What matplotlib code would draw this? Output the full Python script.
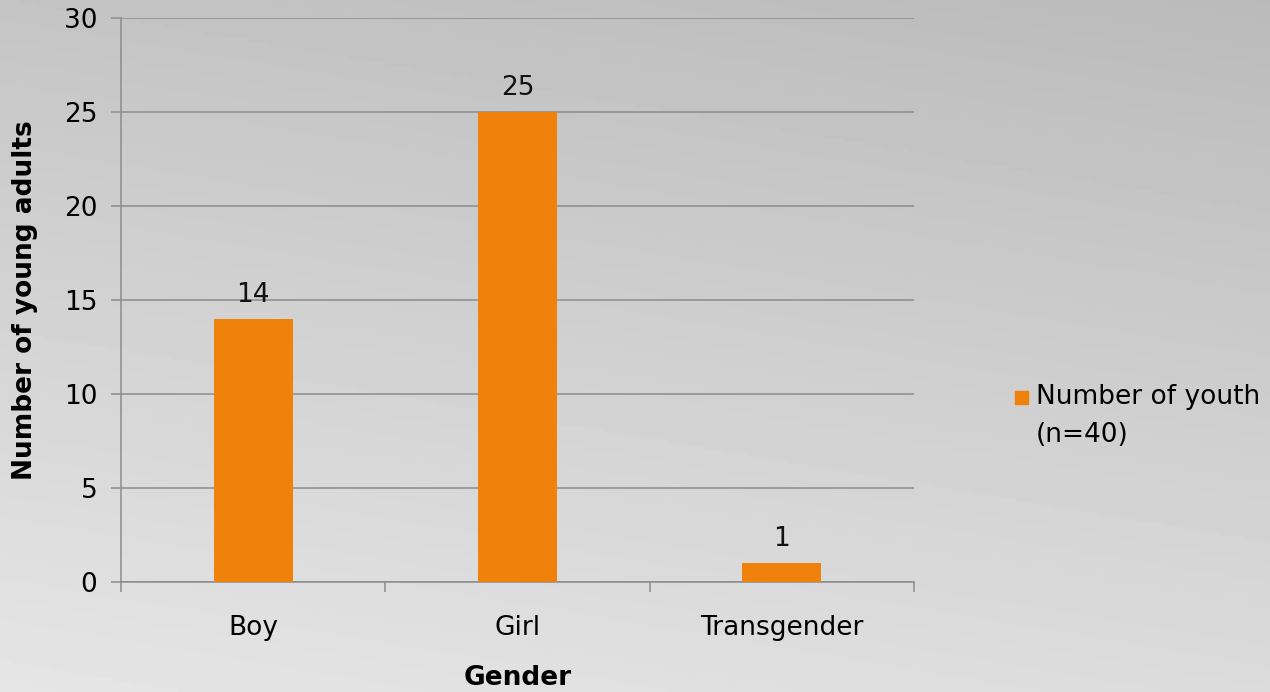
import numpy as np
import matplotlib
matplotlib.use("Agg")
import matplotlib.pyplot as plt
from matplotlib.patches import Rectangle

# --- data ---
categories = ["Boy", "Girl", "Transgender"]
counts = [14, 25, 1]
series_name = "Number of youth\n(n=40)"
y_ticks = [0, 5, 10, 15, 20, 25, 30]

plt.rcParams['font.family'] = ['DejaVu Sans']
bar_color = '#F0820C'
grid_color = '#8C8C8C'
fs = 19

W, H = 1270, 692
fig = plt.figure(figsize=(W / 100, H / 100), dpi=100)

# gradient background: light at the bottom-left, darker at the top-right
bg = fig.add_axes([0, 0, 1, 1], zorder=-10)
xx, yy = np.meshgrid(np.linspace(0, 1, 200), np.linspace(0, 1, 200))
shade = 0.90 - 0.13 * yy - 0.04 * xx
bg.imshow(shade, cmap='gray', vmin=0, vmax=1, aspect='auto',
          extent=[0, 1, 0, 1], origin='lower')
bg.axis('off')

ax = fig.add_axes([121 / W, 1 - 582 / H, 793 / W, 564 / H])
ax.patch.set_alpha(0)

x = np.arange(len(categories))
ax.bar(x, counts, width=0.3, color=bar_color, zorder=3)

for xi, v in zip(x, counts):
    ax.text(xi, v + 0.6, str(v), ha='center', va='bottom', fontsize=fs, color='#111111')

ax.set_xlim(-0.5, len(categories) - 0.5)
ax.set_ylim(0, 30)
ax.set_yticks(y_ticks)
ax.yaxis.grid(True, color=grid_color, linewidth=1.1, zorder=0)
ax.set_axisbelow(True)

# category labels centred, tick marks on the category boundaries
ax.set_xticks(x)
ax.set_xticklabels(categories, fontsize=fs)
ax.tick_params(axis='x', length=0, pad=24)
ax.set_xticks(np.arange(len(categories) + 1) - 0.5, minor=True)
ax.tick_params(axis='x', which='minor', length=7, width=1.1, color=grid_color)
ax.tick_params(axis='y', labelsize=fs, length=7, width=1.1, color=grid_color, pad=10)

for s in ['top', 'right']:
    ax.spines[s].set_visible(False)
for s in ['left', 'bottom']:
    ax.spines[s].set_color(grid_color)
    ax.spines[s].set_linewidth(1.1)

ax.set_xlabel("Gender", fontsize=fs, fontweight='bold')
ax.xaxis.set_label_coords(0.5, (582 - 678) / 564)
ax.xaxis.label.set_va('center')
ax.set_ylabel("Number of young adults", fontsize=fs, fontweight='bold')
ax.yaxis.set_label_coords((25 - 121) / 793, 0.5)
ax.yaxis.label.set_va('center')

# legend, Excel style: marker next to the first text line
fig.patches.append(Rectangle((1015 / W, 1 - 404 / H), 13 / W, 13 / H,
                             transform=fig.transFigure, color=bar_color))
fig.text(1036 / W, 1 - 384 / H, series_name, fontsize=fs, ha='left',
         va='top', linespacing=1.6)

fig.savefig("out.png", dpi=100)
